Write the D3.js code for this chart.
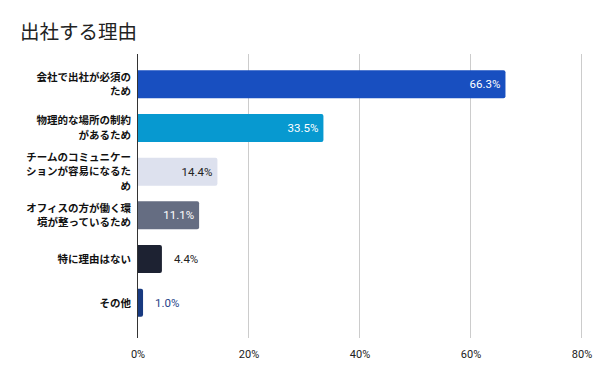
<!DOCTYPE html>
<html><head><meta charset="utf-8">
<script src="https://cdn.jsdelivr.net/npm/d3@7/dist/d3.min.js"></script>
<style>body{margin:0;background:#fff}svg{display:block}</style>
</head><body><svg id="c" width="600" height="371"></svg>
<script>
const title = "出社する理由";
const categories = [
  ["会社で出社が必須の","ため"],
  ["物理的な場所の制約","があるため"],
  ["チームのコミュニケー","ションが容易になるた","め"],
  ["オフィスの方が働く環","境が整っているため"],
  ["特に理由はない"],
  ["その他"]
];
const values = [66.3, 33.5, 14.4, 11.1, 4.4, 1.0];
const barColors = ["#184fc0","#0799d0","#dde1ee","#656d82","#1d2232","#183a80"];
const labelColors = ["#ffffff","#ffffff","#222222","#ffffff","#222222","#1f3f88"];
const labelInside = [true,true,true,true,false,false];
const ticks = [0,20,40,60,80];

const svg = d3.select("#c");
const font = "'Noto Sans CJK JP','Noto Sans',sans-serif";
svg.append("text").attr("x",20).attr("y",39).attr("font-family",font)
  .attr("font-size",19.5).attr("fill","#222").text(title);

const x = d3.scaleLinear().domain([0,80]).range([137.5,581.5]);
const y = d3.scaleBand().domain(d3.range(values.length)).range([54,333]).paddingInner(0.36).paddingOuter(0.37);
const gTop = 54, gBot = 338;

// gridlines
svg.append("g").selectAll("line").data(ticks.slice(1)).join("line")
  .attr("x1",d=>x(d)).attr("x2",d=>x(d)).attr("y1",gTop).attr("y2",gBot)
  .attr("stroke","#cccccc").attr("stroke-width",1);

// tick labels
const xAxis = d3.axisBottom(x).tickValues(ticks).tickFormat(d=>d+"%").tickSize(0).tickPadding(0);
const ax = svg.append("g").attr("transform",`translate(0,${gBot+12})`).call(xAxis);
ax.select(".domain").remove();
ax.selectAll("text").attr("font-family","Roboto,sans-serif").attr("font-size",11).attr("fill","#222").attr("dy","0.7em");

// bars with rounded right corners
function barPath(x0,y0,w,h,r){
  r=Math.min(r,w);
  return `M${x0},${y0}H${x0+w-r}Q${x0+w},${y0} ${x0+w},${y0+r}V${y0+h-r}Q${x0+w},${y0+h} ${x0+w-r},${y0+h}H${x0}Z`;
}
svg.append("g").selectAll("path").data(values).join("path")
  .attr("d",(d,i)=>barPath(x(0),y(i),x(d)-x(0),y.bandwidth(),2))
  .attr("fill",(d,i)=>barColors[i]);

// axis line
svg.append("line").attr("x1",x(0)).attr("x2",x(0)).attr("y1",gTop).attr("y2",gBot)
  .attr("stroke","#333").attr("stroke-width",1);

// value labels
svg.append("g").selectAll("text").data(values).join("text")
  .attr("x",(d,i)=>labelInside[i]? x(d)-5 : x(d)+12)
  .attr("y",(d,i)=>y(i)+y.bandwidth()/2)
  .attr("dy","0.35em")
  .attr("text-anchor",(d,i)=>labelInside[i]?"end":"start")
  .attr("font-family","Roboto,sans-serif").attr("font-size",11.5)
  .attr("fill",(d,i)=>labelColors[i])
  .text(d=>d.toFixed(1)+"%");

// category labels
const lh = 14.5;
const cg = svg.append("g");
categories.forEach((lines,i)=>{
  const cy = y(i)+y.bandwidth()/2;
  const t = cg.append("text").attr("text-anchor","end").attr("font-family",font)
    .attr("font-size",10.5).attr("font-weight","bold").attr("fill","#111");
  const start = cy - (lines.length-1)*lh/2;
  lines.forEach((s,j)=>{
    t.append("tspan").attr("x",131).attr("y",start+j*lh).attr("dy","0.35em").text(s);
  });
});
</script></body></html>
